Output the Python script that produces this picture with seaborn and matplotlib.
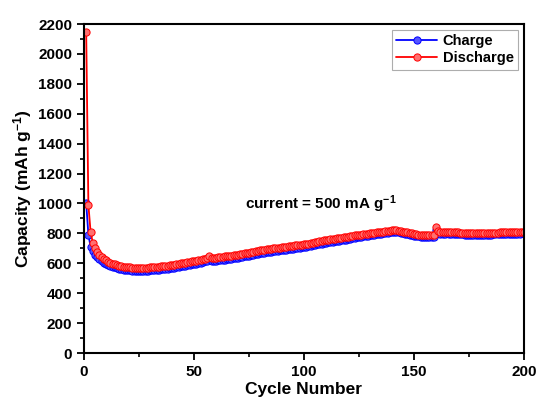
import numpy as np
import pandas as pd
import matplotlib
matplotlib.use("Agg")
import matplotlib.pyplot as plt
import seaborn as sns

cycles = list(range(1, 201))

discharge = [
    2145, 990, 810, 737, 700, 675, 656, 641, 629, 619,
    610, 603, 597, 592, 588, 584, 581, 578, 576, 574,
    572, 571, 570, 569, 569, 569, 570, 570, 571, 572,
    573, 574, 576, 577, 579, 580, 582, 584, 586, 588,
    591, 594, 596, 599, 601, 604, 606, 609, 612, 615,
    618, 621, 624, 628, 632, 638, 648, 638, 636, 638,
    640, 642, 644, 646, 648, 650, 652, 654, 656, 658,
    660, 663, 666, 669, 672, 675, 678, 681, 684, 687,
    689, 691, 693, 695, 697, 699, 701, 703, 705, 707,
    709, 711, 713, 715, 717, 719, 721, 723, 725, 727,
    730, 732, 735, 738, 741, 744, 747, 750, 753, 756,
    758, 760, 762, 764, 766, 768, 770, 773, 776, 779,
    782, 784, 786, 788, 790, 792, 794, 796, 798, 800,
    802, 804, 806, 808, 810, 812, 814, 816, 818, 820,
    821, 820, 818, 815, 812, 809, 806, 803, 800, 797,
    794, 792, 790, 789, 788, 787, 786, 787, 790, 842,
    815, 810, 808, 809, 811, 810, 808, 807, 806, 806,
    805, 804, 803, 803, 802, 801, 801, 800, 800, 800,
    801, 801, 802, 803, 803, 804, 805, 805, 806, 806,
    807, 807, 808, 808, 809, 809, 810, 810, 811, 811,
]

charge = [
    1005, 790, 712, 680, 658, 640, 626, 614, 604, 596,
    589, 583, 577, 572, 568, 564, 561, 558, 556, 554,
    552, 551, 550, 549, 549, 549, 550, 550, 551, 552,
    553, 554, 556, 557, 559, 560, 562, 564, 566, 568,
    571, 574, 576, 579, 581, 584, 586, 589, 592, 595,
    598, 601, 604, 608, 612, 617, 626, 616, 615, 617,
    619, 621, 623, 625, 627, 629, 631, 633, 635, 637,
    640, 643, 646, 649, 652, 655, 658, 661, 664, 667,
    670, 672, 674, 676, 678, 680, 682, 684, 686, 688,
    690, 692, 694, 696, 698, 700, 702, 704, 706, 708,
    711, 714, 717, 720, 723, 726, 729, 732, 735, 738,
    741, 743, 745, 747, 749, 751, 753, 756, 759, 762,
    765, 768, 771, 774, 777, 779, 781, 783, 785, 787,
    790, 792, 794, 796, 798, 800, 802, 804, 806, 808,
    809, 808, 806, 803, 800, 797, 794, 791, 788, 785,
    782, 780, 778, 777, 776, 775, 775, 776, 779, 825,
    803, 798, 797, 798, 800, 799, 797, 796, 795, 795,
    794, 793, 792, 792, 791, 790, 790, 789, 789, 789,
    790, 790, 791, 792, 792, 793, 794, 794, 795, 795,
    796, 796, 797, 797, 798, 798, 799, 799, 800, 800,
]

x_ticks = [0, 50, 100, 150, 200]
y_ticks = list(range(0, 2201, 200))

sns.set_theme(style="ticks")
plt.rcParams['font.family'] = ['Liberation Sans', 'DejaVu Sans']
plt.rcParams['font.weight'] = 'bold'
plt.rcParams['text.color'] = 'black'
plt.rcParams['axes.labelcolor'] = 'black'
plt.rcParams['xtick.color'] = 'black'
plt.rcParams['ytick.color'] = 'black'
plt.rcParams['mathtext.fontset'] = 'custom'
plt.rcParams['mathtext.rm'] = 'Liberation Sans:bold'
plt.rcParams['mathtext.it'] = 'Liberation Sans:bold'
plt.rcParams['mathtext.bf'] = 'Liberation Sans:bold'
plt.rcParams['mathtext.default'] = 'rm'

df_c = pd.DataFrame({"Cycle": cycles, "Capacity": charge})
df_d = pd.DataFrame({"Cycle": cycles, "Capacity": discharge})

fig = plt.figure(figsize=(5.37, 3.97), dpi=100)
ax = fig.add_axes([0.1564, 0.1108, 0.8194, 0.8287])

sns.lineplot(data=df_c, x="Cycle", y="Capacity", ax=ax, color="blue",
             marker="o", markersize=5.2, markerfacecolor="#5555ff",
             markeredgecolor="blue", markeredgewidth=0.7, linewidth=1.3,
             label="Charge")
sns.lineplot(data=df_d, x="Cycle", y="Capacity", ax=ax, color="red",
             marker="o", markersize=5.2, markerfacecolor="#ff7070",
             markeredgecolor="red", markeredgewidth=0.7, linewidth=1.3,
             label="Discharge")

ax.set_xlim(0, 200)
ax.set_ylim(0, 2200)
ax.set_xticks(x_ticks)
ax.set_yticks(y_ticks)
ax.set_xticks(list(range(0, 201, 25)), minor=True)
ax.set_yticks(list(range(0, 2201, 100)), minor=True)
ax.tick_params(axis='both', which='major', direction='out', length=5, width=1.3,
               labelsize=11, colors='black', top=False, right=False)
ax.tick_params(axis='both', which='minor', direction='out', length=3, width=1.2,
               colors='black', top=False, right=False)
for lab in ax.get_xticklabels() + ax.get_yticklabels():
    lab.set_fontweight('bold')
for sp in ax.spines.values():
    sp.set_linewidth(1.5)
    sp.set_color('black')

ax.set_xlabel("Cycle Number", fontsize=12.5, fontweight='bold', labelpad=2.5)
ax.set_ylabel("Capacity (mAh g$^{-1}$)", fontsize=12.5, fontweight='bold', labelpad=3)

ax.text(73, 995, "current = 500 mA g$^{-1}$", fontsize=11, fontweight='bold',
        va='center', ha='left')

leg = ax.legend(loc='upper right', fontsize=10.5, frameon=True, fancybox=False,
                edgecolor='#999999', borderpad=0.3, handlelength=2.8,
                handletextpad=0.4, labelspacing=0.2, borderaxespad=0.4)
leg.get_frame().set_linewidth(0.8)
for t in leg.get_texts():
    t.set_fontweight('bold')

fig.savefig("out.png", dpi=100)
